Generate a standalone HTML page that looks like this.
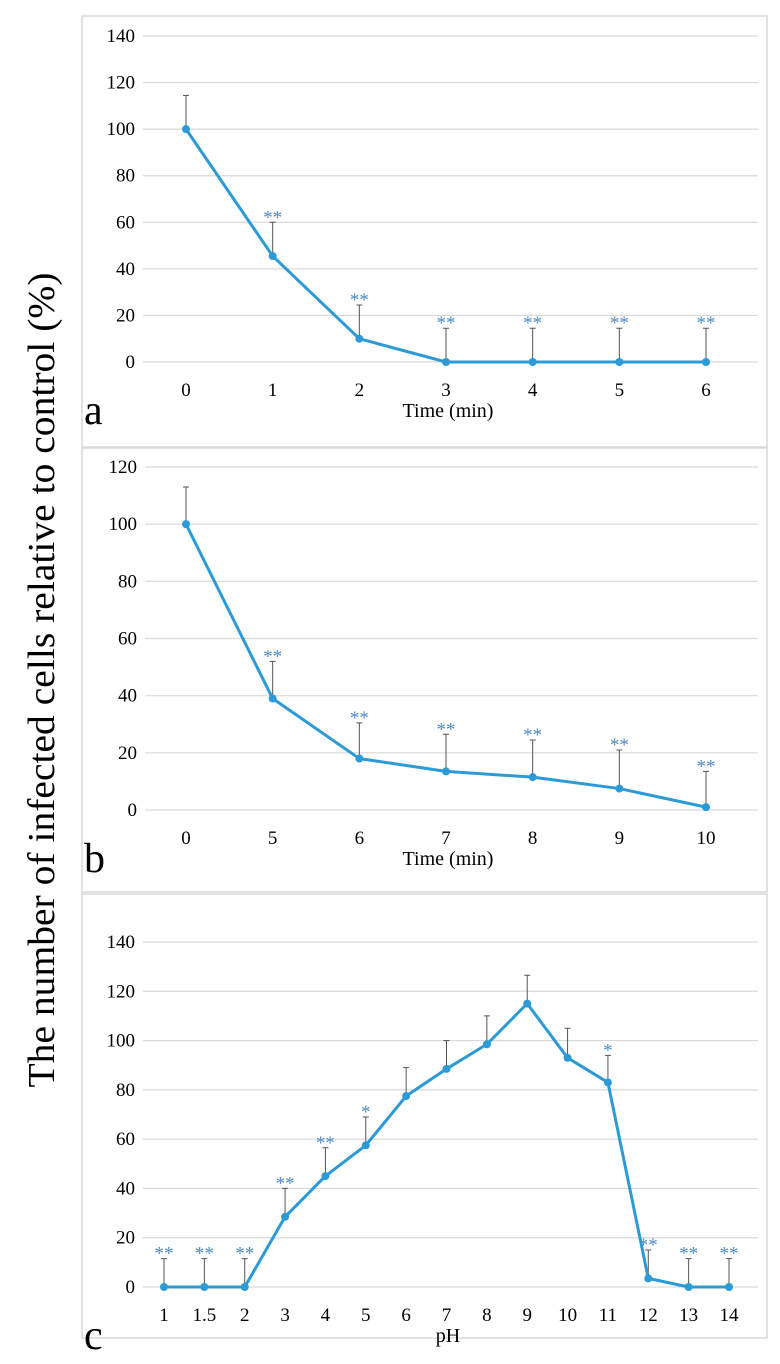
<!DOCTYPE html>
<html><head><meta charset="utf-8">
<style>
body{margin:0;background:#fff;}
svg{display:block;font-family:"Liberation Serif",serif;}
</style></head>
<body>
<svg id="chart" width="780" height="1364" viewBox="0 0 780 1364">
<text x="0" y="0" transform="translate(54,680) rotate(-90)" text-anchor="middle" font-size="38" fill="#000" textLength="815" lengthAdjust="spacingAndGlyphs">The number of infected cells relative to control (%)</text>
</svg>
<script>
const aCats=["0","1","2","3","4","5","6"];
const aVals=[100,45.5,10,0,0,0,0];
const aErr=[114.5,60,24.5,14.5,14.5,14.5,14.5];
const aStars=["","**","**","**","**","**","**"];
const aTicks=[0,20,40,60,80,100,120,140];

const bCats=["0","5","6","7","8","9","10"];
const bVals=[100,39,18,13.5,11.5,7.5,1];
const bErr=[113,52,30.5,26.5,24.5,21,13.5];
const bStars=["","**","**","**","**","**","**"];
const bTicks=[0,20,40,60,80,100,120];

const cCats=["1","1.5","2","3","4","5","6","7","8","9","10","11","12","13","14"];
const cVals=[0,0,0,28.5,45,57.5,77.5,88.5,98.5,115,93,83,3.5,0,0];
const cErr=[11.5,11.5,11.5,40,56.5,69,89,100,110,126.5,105,94,15,11.5,11.5];
const cStars=["**","**","**","**","**","*","","","","","","*","**","**","**"];
const cTicks=[0,20,40,60,80,100,120,140];

const NS="http://www.w3.org/2000/svg";
const svg=document.getElementById('chart');
function mk(tag,attrs,parent){const e=document.createElementNS(NS,tag);for(const k in attrs)e.setAttribute(k,attrs[k]);(parent||svg).appendChild(e);return e;}

function panel(p){
  const g=mk('g',{});
  
  
  const fr=mk('rect',{x:p.fx,y:p.fy,width:p.fw,height:p.fh,fill:'none',stroke:'#d9d9d9','stroke-width':1.5},g);
  
  
  const ymax=p.ticks[p.ticks.length-1];
  const Y=v=>p.y0-(v/ymax)*(p.y0-p.yTop);
  const n=p.cats.length;
  const X=i=>p.xa+(p.xb-p.xa)*i/(n-1);
  p.ticks.forEach(t=>{
    const l=mk('line',{x1:p.gx1,x2:p.gx2,y1:Y(t),y2:Y(t),stroke:'#d9d9d9','stroke-width':1.2},g);
    
    
    const tx=mk('text',{x:p.gx1-8,y:Y(t)+6,'text-anchor':'end','font-size':19,fill:'#000'},g);
    
    
    tx.textContent=t;
  });
  p.cats.forEach((c,i)=>{
    const tx=mk('text',{x:X(i),y:p.y0+34,'text-anchor':'middle','font-size':19,fill:'#000'},g);
    
    
    tx.textContent=c;
  });
  p.vals.forEach((v,i)=>{
    const e=mk('path',{d:`M${X(i)},${Y(v)}V${Y(p.err[i])}M${X(i)-3},${Y(p.err[i])}H${X(i)+3}`,stroke:'#555','stroke-width':1,fill:'none'},g);
    
    
  });
  const pts=p.vals.map((v,i)=>X(i)+','+Y(v)).join(' ');
  const line=mk('polyline',{points:pts,fill:'none',stroke:'#2c9ad6','stroke-width':3,'stroke-linejoin':'round'},g);
  
  
  p.vals.forEach((v,i)=>{
    const c=mk('circle',{cx:X(i),cy:Y(v),r:4,fill:'#2c9ad6'},g);
    
    
    if(p.stars[i]){
      const s=mk('text',{x:X(i),y:Y(p.err[i])+1,'text-anchor':'middle','font-size':19,fill:'#4f8cc4'},g);
      
      
      s.textContent=p.stars[i];
    }
  });
  const xt=mk('text',{x:p.xtx,y:p.y0+55,'text-anchor':'middle','font-size':20,fill:'#000'},g);
  
  
  xt.textContent=p.xtitle;
  const lb=mk('text',{x:84,y:p.y0+62,'font-size':42,fill:'#000'},g);
  
  
  lb.textContent=p.id;
}
panel({id:'a',cats:aCats,vals:aVals,err:aErr,stars:aStars,ticks:aTicks,fx:82,fy:16,fw:685,fh:431,yTop:36,y0:362,gx1:143,gx2:758,xa:186,xb:706,xtitle:'Time (min)',xtx:448});
panel({id:'b',cats:bCats,vals:bVals,err:bErr,stars:bStars,ticks:bTicks,fx:82,fy:448,fw:685,fh:444,yTop:467,y0:810,gx1:145,gx2:758,xa:186,xb:706,xtitle:'Time (min)',xtx:448});
panel({id:'c',cats:cCats,vals:cVals,err:cErr,stars:cStars,ticks:cTicks,fx:82,fy:894,fw:685,fh:444,yTop:942,y0:1287,gx1:143,gx2:758,xa:164,xb:729,xtitle:'pH',xtx:448});
</script>
</body></html>
